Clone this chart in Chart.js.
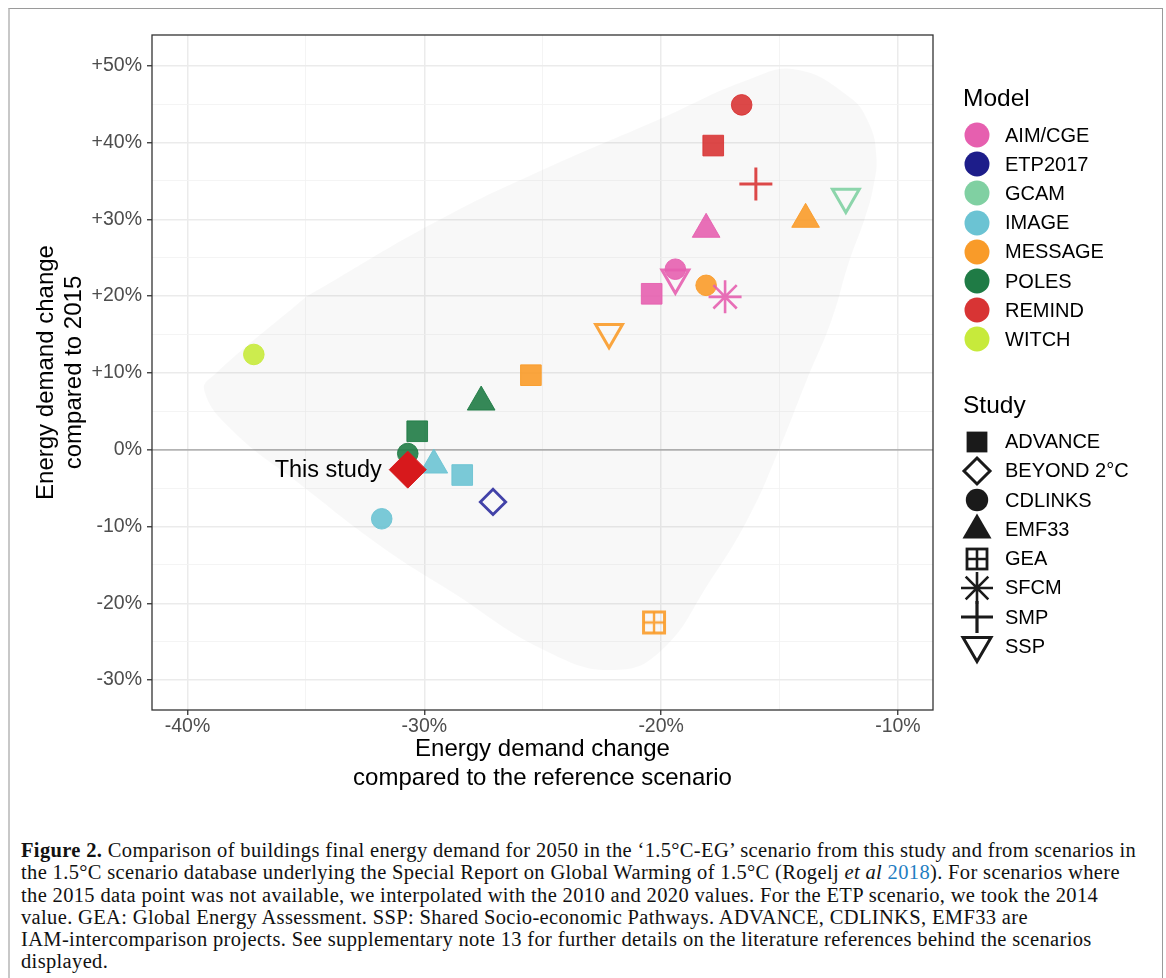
<!DOCTYPE html>
<html>
<head>
<meta charset="utf-8">
<script src="https://cdn.jsdelivr.net/npm/chart.js@4.4.1/dist/chart.umd.min.js"></script>
<style>
html,body{margin:0;padding:0;background:#fff;}
body{width:1166px;height:978px;position:relative;overflow:hidden;font-family:"Liberation Sans",Arial,sans-serif;}
#frame{position:absolute;left:8px;top:8px;width:1155px;height:990px;border-top:1px solid #9a9a9a;border-right:1px solid #9a9a9a;border-left:2px solid #c8c8c8;box-sizing:border-box;}
#chart{position:absolute;left:0;top:0;}
.lg-title{position:absolute;left:963px;font-size:24.5px;color:#000;line-height:1;transform:translateY(-50%);}
.lg-item{position:absolute;left:957px;height:40px;display:flex;align-items:center;transform:translateY(-50%);}
.lg-item svg{display:block;width:40px;height:40px;}
.lg-item span{position:absolute;left:48px;font-size:20px;color:#000;white-space:nowrap;}
#caption{position:absolute;left:21px;top:839px;font-family:"Liberation Serif","Times New Roman",serif;font-size:20.5px;letter-spacing:0.35px;color:#111;white-space:nowrap;}
#caption div{line-height:22.3px;}
#caption .blue{color:#1f7ec2;}
</style>
</head>
<body>
<div id="frame"></div>
<canvas id="chart" width="1166" height="800"></canvas>
<div id="legend"></div>
<div id="caption">
<div><b>Figure 2.</b> Comparison of buildings final energy demand for 2050 in the ‘1.5°C-EG’ scenario from this study and from scenarios in</div>
<div>the 1.5°C scenario database underlying the Special Report on Global Warming of 1.5°C (Rogelj <i>et al</i> <span class="blue">2018</span>). For scenarios where</div>
<div>the 2015 data point was not available, we interpolated with the 2010 and 2020 values. For the ETP scenario, we took the 2014</div>
<div>value. GEA: Global Energy Assessment. SSP: Shared Socio-economic Pathways. ADVANCE, CDLINKS, EMF33 are</div>
<div>IAM-intercomparison projects. See supplementary note 13 for further details on the literature references behind the scenarios</div>
<div>displayed.</div>
</div>
<script>
// ---------------- DATA ----------------
const modelNames = ['AIM/CGE','ETP2017','GCAM','IMAGE','MESSAGE','POLES','REMIND','WITCH'];
const studyNames = ['ADVANCE','BEYOND 2°C','CDLINKS','EMF33','GEA','SFCM','SMP','SSP'];

const pointModel = ['REMIND','REMIND','REMIND','GCAM','MESSAGE','AIM/CGE','AIM/CGE','AIM/CGE','MESSAGE','AIM/CGE','AIM/CGE','MESSAGE','WITCH','MESSAGE','POLES','POLES','POLES','IMAGE','IMAGE','ETP2017','IMAGE','MESSAGE'];
const pointStudy = ['CDLINKS','ADVANCE','SMP','SSP','EMF33','EMF33','CDLINKS','SSP','CDLINKS','ADVANCE','SFCM','SSP','CDLINKS','ADVANCE','EMF33','ADVANCE','CDLINKS','EMF33','ADVANCE','BEYOND 2°C','CDLINKS','GEA'];
const pointX = [-16.6,-17.8,-16.0,-12.2,-13.9,-18.1,-19.4,-19.4,-18.1,-20.4,-17.3,-22.2,-37.2,-25.5,-27.6,-30.3,-30.7,-29.6,-28.4,-27.1,-31.8,-20.3];
const pointY = [44.9,39.6,34.6,32.9,30.0,28.7,23.5,22.4,21.4,20.3,19.9,15.3,12.4,9.7,6.2,2.4,-0.5,-2.0,-3.3,-6.8,-9.0,-22.5];

const thisStudyLabel = 'This study';
const thisStudyX = [-30.7];
const thisStudyY = [-2.6];

// outline of the shaded scenario envelope (data units)
const hullX = [-34.99,-29.38,-24.74,-20.10,-16.30,-14.32,-12.08,-11.24,-10.91,-11.04,-11.38,-12.08,-12.80,-13.85,-15.03,-16.30,-17.99,-19.97,-21.91,-24.74,-28.96,-31.78,-35.29,-38.11,-39.30,-38.79,-34.99];
const hullY = [19.9,29.9,36.8,43.0,48.2,49.5,46.0,42.6,38.2,34.2,30.3,24.3,16.9,9.07,-0.09,-8.8,-17.4,-26.1,-28.7,-26.4,-18.3,-12.7,-4.4,2.5,7.76,9.98,19.9];

const xTickValues = [-40,-30,-20,-10];
const yTickValues = [50,40,30,20,10,0,-10,-20,-30];
const xAxisTitle = ['Energy demand change','compared to the reference scenario'];
const yAxisTitle = ['Energy demand change','compared to 2015'];
const modelLegendTitle = 'Model';
const studyLegendTitle = 'Study';

// ---------------- STYLES ----------------
const modelColors = {
  'AIM/CGE':'#E65FAF','ETP2017':'#1D1D8A','GCAM':'#80D0A2','IMAGE':'#6BC3D3',
  'MESSAGE':'#F99B29','POLES':'#1F7B45','REMIND':'#D83434','WITCH':'#C7EA3B'
};
const openColors = {'ETP2017':'#2E2E9E'};
const studyStyle = {
  'ADVANCE':   {ps:'rect', r:14.6, open:false},
  'BEYOND 2°C':{ps:'rectRot', r:12.7, open:true, bw:2.8},
  'CDLINKS':   {ps:'circle', r:10.3, open:false},
  'EMF33':     {ps:'triangle', r:16, open:false},
  'GEA':       {ps:'gea', r:12, open:true},
  'SFCM':      {ps:'star', r:16.5, open:true, bw:2.6},
  'SMP':       {ps:'cross', r:16.5, open:true, bw:3},
  'SSP':       {ps:'triangle', r:15.5, rot:180, open:true, bw:3}
};
function hexA(hex, a){
  const n=parseInt(hex.slice(1),16);
  return `rgba(${(n>>16)&255},${(n>>8)&255},${n&255},${a})`;
}
function geaImage(color){
  const c=document.createElement('canvas'); c.width=26; c.height=26;
  const g=c.getContext('2d');
  g.strokeStyle=color; g.lineWidth=3;
  g.strokeRect(2.5,2.5,21,21);
  g.lineWidth=2.4;
  g.beginPath(); g.moveTo(13,2.5); g.lineTo(13,23.5); g.moveTo(2.5,13); g.lineTo(23.5,13); g.stroke();
  return c;
}

const datasets = [];
for (let i=0;i<pointX.length;i++){
  const st = studyStyle[pointStudy[i]];
  const base = modelColors[pointModel[i]];
  const col = hexA(openColors[pointModel[i]] || base, 0.9);
  datasets.push({
    type:'scatter',
    label: pointModel[i]+' / '+pointStudy[i],
    data:[{x:pointX[i], y:pointY[i]}],
    order: pointX.length - i,
    pointRadius: st.r,
    pointRotation: st.rot || 0,
    pointStyle: st.ps === 'gea' ? geaImage(col) : st.ps,
    pointBackgroundColor: st.open ? 'rgba(0,0,0,0)' : col,
    pointBorderColor: col,
    pointBorderWidth: st.open ? (st.bw||3) : 1
  });
}
datasets.push({
  type:'scatter', label:thisStudyLabel,
  data: thisStudyX.map((x,i)=>({x, y:thisStudyY[i]})),
  order:-1, pointStyle:'rectRot', pointRadius:18.5,
  pointBackgroundColor:'#D7191C', pointBorderColor:'#D7191C', pointBorderWidth:1
});
datasets.push({
  type:'line', label:'envelope',
  data: hullX.map((x,i)=>({x, y:hullY[i]})),
  order:1000, showLine:true, fill:'shape', tension:0.45,
  borderWidth:0, borderColor:'rgba(0,0,0,0)', backgroundColor:'rgba(0,0,0,0.026)',
  pointRadius:0
});

const isMajor = v => Math.abs(v % 10) < 1e-9;

const panelPlugin = {
  id:'panel',
  afterDatasetsDraw(chart){
    const ctx=chart.ctx, xs=chart.scales.x, ys=chart.scales.y;
    ctx.save();
    ctx.font='23.5px "Liberation Sans", Arial, sans-serif';
    ctx.fillStyle='#000'; ctx.textAlign='right'; ctx.textBaseline='middle';
    ctx.fillText(thisStudyLabel, xs.getPixelForValue(thisStudyX[0]) - 26, ys.getPixelForValue(thisStudyY[0]) + 1);
    ctx.restore();
  },
  afterDraw(chart){
    const a=chart.chartArea, ctx=chart.ctx;
    ctx.save(); ctx.strokeStyle='#333'; ctx.lineWidth=1.3;
    ctx.strokeRect(a.left, a.top, a.right-a.left, a.bottom-a.top);
    ctx.restore();
  }
};

new Chart(document.getElementById('chart'), {
  type:'scatter',
  data:{datasets},
  plugins:[panelPlugin],
  options:{
    responsive:false, animation:false, devicePixelRatio:1,
    layout:{padding:{left:0, top:35, right:233, bottom:0}},
    plugins:{legend:{display:false}, tooltip:{enabled:false}},
    scales:{
      x:{
        type:'linear', min:-41.5, max:-8.52,
        afterFit(s){ s.height = 90; },
        border:{display:false},
        grid:{
          color: c => isMajor(c.tick.value) ? '#ebebeb' : '#f3f3f3',
          lineWidth: c => isMajor(c.tick.value) ? 1.5 : 0.9,
          tickColor: c => isMajor(c.tick.value) ? '#333' : 'rgba(0,0,0,0)',
          tickLength:5, tickWidth:1.3
        },
        ticks:{
          stepSize:5, includeBounds:false, autoSkip:false, maxRotation:0, padding:0,
          color:'#4d4d4d', font:{family:'"Liberation Sans", Arial, sans-serif', size:19.5},
          callback: v => xTickValues.includes(v) ? v + '%' : ''
        },
        title:{display:true, text:xAxisTitle, color:'#000',
          font:{family:'"Liberation Sans", Arial, sans-serif', size:24, lineHeight:1.2},
          padding:{top:0, bottom:7}}
      },
      y:{
        type:'linear', min:-33.9, max:54.0,
        afterFit(s){ s.width = 152; },
        border:{display:false},
        grid:{
          color: c => c.tick.value === 0 ? '#b3b3b3' : (isMajor(c.tick.value) ? '#ebebeb' : '#f3f3f3'),
          lineWidth: c => c.tick.value === 0 ? 1.7 : (isMajor(c.tick.value) ? 1.5 : 0.9),
          tickColor: c => isMajor(c.tick.value) ? '#333' : 'rgba(0,0,0,0)',
          tickLength:5, tickWidth:1.3
        },
        ticks:{
          stepSize:5, includeBounds:false, autoSkip:false, padding:5,
          color:'#4d4d4d', font:{family:'"Liberation Sans", Arial, sans-serif', size:19.5},
          callback: v => yTickValues.includes(v) ? (v > 0 ? '+' + v + '%' : v + '%') : ''
        },
        title:{display:true, text:yAxisTitle, color:'#000',
          font:{family:'"Liberation Sans", Arial, sans-serif', size:24, lineHeight:1.2},
          padding:{top:31.5, bottom:0}}
      }
    }
  }
});

// ---------------- LEGEND (HTML) ----------------
const legend = document.getElementById('legend');
function addTitle(text, y){
  const d=document.createElement('div'); d.className='lg-title'; d.style.top=y+'px'; d.textContent=text; legend.appendChild(d);
}
function addItem(svg, text, y){
  const d=document.createElement('div'); d.className='lg-item'; d.style.top=y+'px';
  d.innerHTML = svg + '<span>' + text + '</span>';
  legend.appendChild(d);
}
const K='#1a1a1a';
const studySvgs = {
  'ADVANCE':'<rect x="9.6" y="9.6" width="20.8" height="20.8" fill="'+K+'"/>',
  'BEYOND 2°C':'<polygon points="20,7 33,20 20,33 7,20" fill="none" stroke="'+K+'" stroke-width="3"/>',
  'CDLINKS':'<circle cx="20" cy="20" r="11.2" fill="'+K+'"/>',
  'EMF33':'<polygon points="20,4.5 34.5,29.5 5.5,29.5" fill="'+K+'"/>',
  'GEA':'<rect x="10" y="10" width="20" height="20" fill="none" stroke="'+K+'" stroke-width="2.8"/><path d="M20 10V30M10 20H30" stroke="'+K+'" stroke-width="2.6"/>',
  'SFCM':'<path d="M4 20H36M20 4V36M8.7 8.7L31.3 31.3M31.3 8.7L8.7 31.3" stroke="'+K+'" stroke-width="2.6"/>',
  'SMP':'<path d="M4 20H36M20 4V36" stroke="'+K+'" stroke-width="3.2"/>',
  'SSP':'<polygon points="6,11.5 34,11.5 20,35.5" fill="none" stroke="'+K+'" stroke-width="3" stroke-linejoin="miter"/>'
};
addTitle(modelLegendTitle, 97.5);
modelNames.forEach((m,i)=>{
  addItem('<svg viewBox="0 0 40 40"><circle cx="20" cy="20" r="12.5" fill="'+modelColors[m]+'"/></svg>', m, 135 + i*29.2);
});
addTitle(studyLegendTitle, 405);
studyNames.forEach((s,i)=>{
  addItem('<svg viewBox="0 0 40 40">'+studySvgs[s]+'</svg>', s, 441.7 + i*29.25);
});
</script>
</body>
</html>
